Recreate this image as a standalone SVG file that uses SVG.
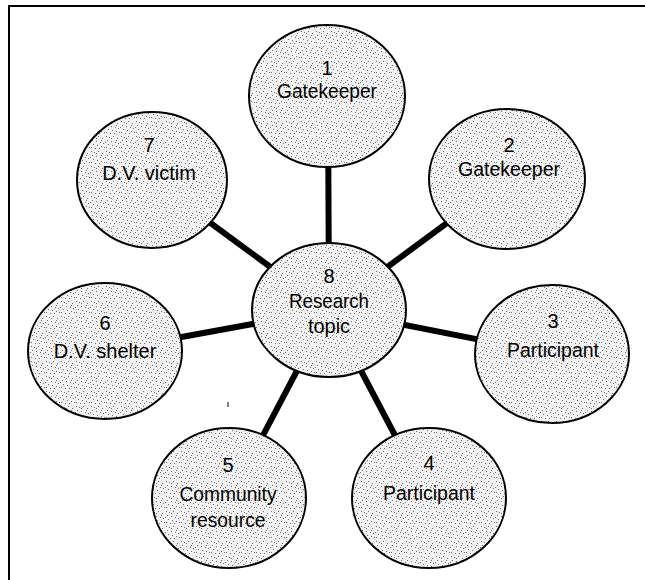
<svg xmlns="http://www.w3.org/2000/svg" width="645" height="580" viewBox="0 0 645 580">
<style>
.node ellipse{fill:url(#stip);stroke:#000;stroke-width:2}
.node text{font-family:"Liberation Sans",Arial,sans-serif;font-size:20px;fill:#000;text-anchor:middle}
.conn line{stroke:#000;stroke-width:6}
</style>
<defs>
<pattern id="stip" width="15" height="15" patternUnits="userSpaceOnUse">
<rect width="15" height="15" fill="#f2f2f2"/>
<g fill="#6e6e6e">
<rect x="1" y="1" width="1" height="1"/><rect x="4" y="2" width="1" height="1"/><rect x="8" y="1" width="1" height="1"/>
<rect x="12" y="3" width="1" height="1"/><rect x="2" y="5" width="1" height="1"/><rect x="6" y="6" width="1" height="1"/>
<rect x="10" y="7" width="1" height="1"/><rect x="13" y="8" width="1" height="1"/><rect x="3" y="9" width="1" height="1"/>
<rect x="7" y="10" width="1" height="1"/><rect x="11" y="11" width="1" height="1"/><rect x="1" y="12" width="1" height="1"/>
<rect x="5" y="13" width="1" height="1"/><rect x="9" y="13" width="1" height="1"/><rect x="14" y="12" width="1" height="1"/>
<rect x="6" y="3" width="1" height="1"/><rect x="11" y="5" width="1" height="1"/><rect x="0" y="7" width="1" height="1"/>
</g>
</pattern>
</defs>
<rect width="645" height="580" fill="#fff"/>
<path d="M9,580 V6 H645" fill="none" stroke="#000" stroke-width="2"/>
<line x1="228" y1="402" x2="228" y2="407" stroke="#000" stroke-width="1"/>
<g id="connectors" class="conn">
<line x1="329" y1="310" x2="328" y2="96"/>
<line x1="329" y1="310" x2="508" y2="178"/>
<line x1="329" y1="310" x2="552" y2="354"/>
<line x1="329" y1="310" x2="428" y2="498"/>
<line x1="329" y1="310" x2="230" y2="498"/>
<line x1="329" y1="310" x2="105" y2="351"/>
<line x1="329" y1="310" x2="152" y2="180"/>
</g>
<g id="n1" class="node"><ellipse cx="327" cy="96" rx="78" ry="71"/><text x="327" y="75">1</text><text x="327" y="98" textLength="100" lengthAdjust="spacingAndGlyphs">Gatekeeper</text></g>
<g id="n2" class="node"><ellipse cx="507" cy="179" rx="78" ry="70"/><text x="509" y="152">2</text><text x="509" y="176" textLength="102" lengthAdjust="spacingAndGlyphs">Gatekeeper</text></g>
<g id="n3" class="node"><ellipse cx="552" cy="354" rx="77" ry="69"/><text x="553" y="328">3</text><text x="553" y="357" textLength="92" lengthAdjust="spacingAndGlyphs">Participant</text></g>
<g id="n4" class="node"><ellipse cx="429" cy="498" rx="77" ry="70"/><text x="429" y="470">4</text><text x="429" y="500" textLength="92" lengthAdjust="spacingAndGlyphs">Participant</text></g>
<g id="n5" class="node"><ellipse cx="229" cy="498" rx="77" ry="70"/><text x="228" y="472">5</text><text x="228" y="501" textLength="97" lengthAdjust="spacingAndGlyphs">Community</text><text x="228" y="527" textLength="75" lengthAdjust="spacingAndGlyphs">resource</text></g>
<g id="n6" class="node"><ellipse cx="105" cy="351" rx="77" ry="68"/><text x="105" y="330">6</text><text x="105" y="358">D.V. shelter</text></g>
<g id="n7" class="node"><ellipse cx="152" cy="180" rx="75" ry="68"/><text x="149" y="152">7</text><text x="149" y="180">D.V. victim</text></g>
<g id="n8" class="node"><ellipse cx="329" cy="310" rx="77" ry="67"/><text x="329" y="283">8</text><text x="329" y="308" textLength="80" lengthAdjust="spacingAndGlyphs">Research</text><text x="329" y="333">topic</text></g>
</svg>
